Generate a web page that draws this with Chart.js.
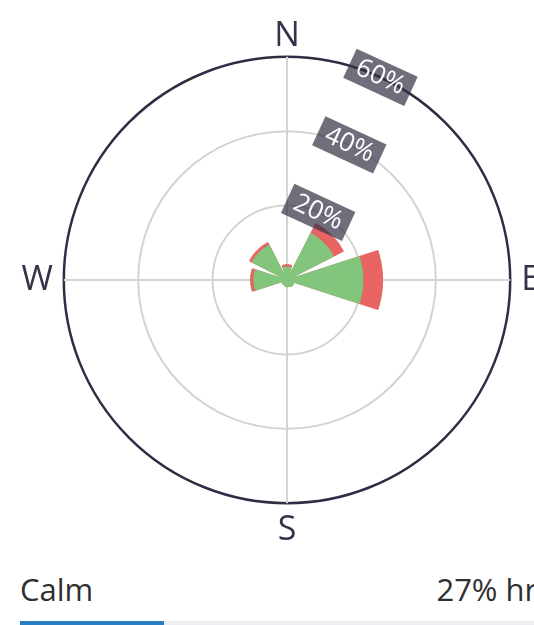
<!DOCTYPE html>
<html>
<head>
<meta charset="utf-8">
<script src="https://cdn.jsdelivr.net/npm/chart.js@4/dist/chart.umd.min.js"></script>
<style>
  html, body { margin: 0; padding: 0; background: #fff; overflow: hidden; width: 534px; height: 625px; }
  #wrap { position: absolute; left: -18px; top: 0; width: 610px; height: 560px; }
  #calm { position: absolute; left: 20px; top: 569px; width: 532px; height: 40px; font-family: 'Open Sans', sans-serif; font-size: 31px; line-height: 40px; color: #2f2f2f; }
  #calm .l { position: absolute; left: 0; top: 0; white-space: nowrap; }
  #calm .r { position: absolute; right: 0; top: 0; white-space: nowrap; }
  #bar { position: absolute; left: 20px; top: 621px; width: 532px; height: 5px; background: #ededf2; }
  #bar .fill { height: 100%; background: #2a7fc3; }
</style>
</head>
<body>
<div id="wrap"><canvas id="c"></canvas></div>
<div id="calm"><span class="l">Calm</span><span class="r" id="calmVal"></span></div>
<div id="bar"><div class="fill" id="calmFill"></div></div>
<script>
// ---- data (percent of hours) ----
const directions = ['N', 'NE', 'E', 'SE', 'S', 'SW', 'W', 'NW'];
const lightWind = [3.5, 14, 20.4, 2, 1.8, 1.5, 8.9, 10.5];   // green part
const strongWind = [0.6, 3, 5.3, 0, 0, 0, 0.9, 0.8];          // red part
const compassLabels = ['N', 'E', 'S', 'W'];
const radialTicks = [0, 20, 40, 60];
const calmShare = 27;

document.getElementById('calmVal').textContent = calmShare + '% hrs';
document.getElementById('calmFill').style.width = calmShare + '%';

// ---- build the slices the polar area chart needs ----
const SLICE = 2.25;            // degrees per slice
const PER_DIR = 20;            // 16 filled + 4 gap slices per direction
const FILLED = 16;
const N_SLICES = directions.length * PER_DIR;
const SHIFT = 19;              // chart index 0 -> global slice 19
const startAngle = -18 + SLICE * SHIFT;

const labels = [], greenData = [], totalData = [], greenBg = [], redBg = [], bw = [];
for (let i = 0; i < N_SLICES; i++) {
  const g = (i + SHIFT) % N_SLICES;
  const d = Math.floor(g / PER_DIR), j = g % PER_DIR;
  const a = ((startAngle + i * SLICE) % 360 + 360) % 360;
  labels.push(a % 90 === 0 ? compassLabels[a / 90] : '');
  const filled = j < FILLED;
  greenData.push(filled ? lightWind[d] : 0);
  totalData.push(filled ? lightWind[d] + strongWind[d] : 0);
  greenBg.push(filled ? '#82c67e' : 'rgba(0,0,0,0)');
  redBg.push(filled ? '#e86462' : 'rgba(0,0,0,0)');
  bw.push(filled ? 1 : 0);
}

Chart.defaults.font.family = "'Open Sans', sans-serif";

new Chart(document.getElementById('c'), {
  type: 'polarArea',
  data: {
    labels: labels,
    datasets: [
      { data: greenData, backgroundColor: greenBg, borderColor: greenBg, borderWidth: bw },
      { data: totalData, backgroundColor: redBg, borderColor: redBg, borderWidth: bw }
    ]
  },
  options: {
    responsive: true,
    maintainAspectRatio: false,
    animation: false,
    layout: { padding: { top: 13, bottom: 5, left: 0, right: 0 } },
    plugins: { legend: { display: false }, tooltip: { enabled: false } },
    scales: {
      r: {
        startAngle: startAngle,
        min: radialTicks[0],
        max: radialTicks[radialTicks.length - 1],
        ticks: {
          stepSize: radialTicks[1] - radialTicks[0],
          z: 1,
          color: '#ffffff',
          font: { size: 26 },
          showLabelBackdrop: true,
          backdropColor: 'rgba(50,50,68,0.7)',
          backdropPadding: { x: 8, y: 3 },
          callback: (v) => v + '%'
        },
        grid: {
          circular: true,
          color: (ctx) => ctx.tick && ctx.tick.value === radialTicks[radialTicks.length - 1] ? '#2d2d44' : '#d3d3d3',
          lineWidth: (ctx) => ctx.tick && ctx.tick.value === radialTicks[radialTicks.length - 1] ? 2.5 : 2
        },
        angleLines: {
          display: true,
          color: (ctx) => ctx.label ? '#d3d3d3' : 'rgba(0,0,0,0)',
          lineWidth: (ctx) => ctx.label ? 2 : 0
        },
        pointLabels: {
          display: true,
          color: '#33334a',
          font: { size: 34 },
          padding: (ctx) => ctx.label === 'S' ? -9 : (ctx.label === 'E' || ctx.label === 'W') ? -5 : -15.5
        }
      }
    }
  }
});
</script>
</body>
</html>
